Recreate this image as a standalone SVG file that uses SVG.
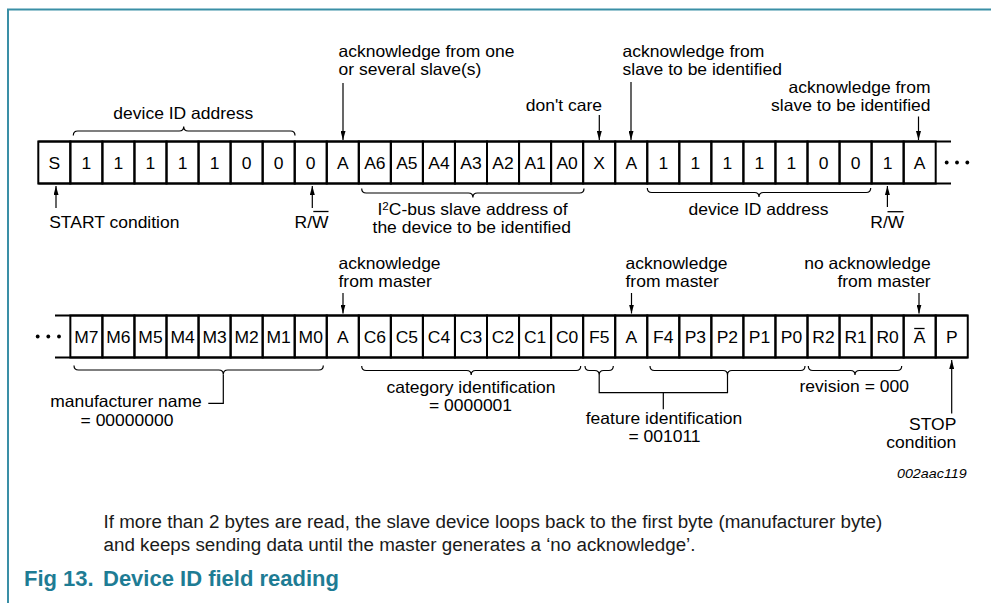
<svg xmlns="http://www.w3.org/2000/svg" width="991" height="603" viewBox="0 0 991 603">
<defs>
<style>
text{font-family:"Liberation Sans",Arial,Helvetica,sans-serif;fill:#000}
.t{font-size:16.5px}
.c{font-size:16.5px;text-anchor:middle}
.m{text-anchor:middle}
.e{text-anchor:end}
.cell rect{fill:none;stroke:#000;stroke-width:2}
.rl{stroke:#000;stroke-width:2;fill:none}
.br{fill:none;stroke:#000;stroke-width:1.2}
.ar{stroke:#000;stroke-width:1.2;marker-end:url(#ah)}
.ol{stroke:#000;stroke-width:1.3}
.dot{fill:#000}
.cap{font-size:18.8px;fill:#1a1a1a}
.ttl{font-size:22px;font-weight:bold;fill:#1e7c94}
</style>
<marker id="ah" markerUnits="userSpaceOnUse" markerWidth="9" markerHeight="5" refX="9" refY="2.5" orient="auto" viewBox="0 0 9 5"><path d="M0,0 L9,2.5 L0,5 z" fill="#000"/></marker>
</defs>
<rect width="991" height="603" fill="#fff"/>
<path d="M8,603 V9.5 H991" fill="none" stroke="#3a8fa6" stroke-width="2"/>

<!-- top row lines -->
<g id="row1-lines">
<path class="rl" d="M38.3,141.5 H951 M38.3,183.5 H951"/>
<circle class="dot" cx="946.7" cy="162.5" r="1.9"/><circle class="dot" cx="957" cy="162.5" r="1.9"/><circle class="dot" cx="967.3" cy="162.5" r="1.9"/>
</g>
<g id="t0" class="cell"><rect x="38.3" y="141.5" width="32.05" height="42"/><text class="c" transform="translate(54.33 168.5) scale(1.06 1)">S</text></g>
<g id="t1" class="cell"><rect x="70.35" y="141.5" width="32.05" height="42"/><text class="c" transform="translate(86.38 168.5) scale(1.06 1)">1</text></g>
<g id="t2" class="cell"><rect x="102.4" y="141.5" width="32.05" height="42"/><text class="c" transform="translate(118.43 168.5) scale(1.06 1)">1</text></g>
<g id="t3" class="cell"><rect x="134.45" y="141.5" width="32.05" height="42"/><text class="c" transform="translate(150.48 168.5) scale(1.06 1)">1</text></g>
<g id="t4" class="cell"><rect x="166.5" y="141.5" width="32.05" height="42"/><text class="c" transform="translate(182.53 168.5) scale(1.06 1)">1</text></g>
<g id="t5" class="cell"><rect x="198.55" y="141.5" width="32.05" height="42"/><text class="c" transform="translate(214.58 168.5) scale(1.06 1)">1</text></g>
<g id="t6" class="cell"><rect x="230.6" y="141.5" width="32.05" height="42"/><text class="c" transform="translate(246.63 168.5) scale(1.06 1)">0</text></g>
<g id="t7" class="cell"><rect x="262.65" y="141.5" width="32.05" height="42"/><text class="c" transform="translate(278.68 168.5) scale(1.06 1)">0</text></g>
<g id="t8" class="cell"><rect x="294.7" y="141.5" width="32.05" height="42"/><text class="c" transform="translate(310.73 168.5) scale(1.06 1)">0</text></g>
<g id="t9" class="cell"><rect x="326.75" y="141.5" width="32.05" height="42"/><text class="c" transform="translate(342.78 168.5) scale(1.06 1)">A</text></g>
<g id="t10" class="cell"><rect x="358.8" y="141.5" width="32.05" height="42"/><text class="c" transform="translate(374.83 168.5) scale(1.06 1)">A6</text></g>
<g id="t11" class="cell"><rect x="390.85" y="141.5" width="32.05" height="42"/><text class="c" transform="translate(406.88 168.5) scale(1.06 1)">A5</text></g>
<g id="t12" class="cell"><rect x="422.9" y="141.5" width="32.05" height="42"/><text class="c" transform="translate(438.93 168.5) scale(1.06 1)">A4</text></g>
<g id="t13" class="cell"><rect x="454.95" y="141.5" width="32.05" height="42"/><text class="c" transform="translate(470.98 168.5) scale(1.06 1)">A3</text></g>
<g id="t14" class="cell"><rect x="487" y="141.5" width="32.05" height="42"/><text class="c" transform="translate(503.03 168.5) scale(1.06 1)">A2</text></g>
<g id="t15" class="cell"><rect x="519.05" y="141.5" width="32.05" height="42"/><text class="c" transform="translate(535.08 168.5) scale(1.06 1)">A1</text></g>
<g id="t16" class="cell"><rect x="551.1" y="141.5" width="32.05" height="42"/><text class="c" transform="translate(567.13 168.5) scale(1.06 1)">A0</text></g>
<g id="t17" class="cell"><rect x="583.15" y="141.5" width="32.05" height="42"/><text class="c" transform="translate(599.18 168.5) scale(1.06 1)">X</text></g>
<g id="t18" class="cell"><rect x="615.2" y="141.5" width="32.05" height="42"/><text class="c" transform="translate(631.23 168.5) scale(1.06 1)">A</text></g>
<g id="t19" class="cell"><rect x="647.25" y="141.5" width="32.05" height="42"/><text class="c" transform="translate(663.28 168.5) scale(1.06 1)">1</text></g>
<g id="t20" class="cell"><rect x="679.3" y="141.5" width="32.05" height="42"/><text class="c" transform="translate(695.33 168.5) scale(1.06 1)">1</text></g>
<g id="t21" class="cell"><rect x="711.35" y="141.5" width="32.05" height="42"/><text class="c" transform="translate(727.38 168.5) scale(1.06 1)">1</text></g>
<g id="t22" class="cell"><rect x="743.4" y="141.5" width="32.05" height="42"/><text class="c" transform="translate(759.43 168.5) scale(1.06 1)">1</text></g>
<g id="t23" class="cell"><rect x="775.45" y="141.5" width="32.05" height="42"/><text class="c" transform="translate(791.48 168.5) scale(1.06 1)">1</text></g>
<g id="t24" class="cell"><rect x="807.5" y="141.5" width="32.05" height="42"/><text class="c" transform="translate(823.53 168.5) scale(1.06 1)">0</text></g>
<g id="t25" class="cell"><rect x="839.55" y="141.5" width="32.05" height="42"/><text class="c" transform="translate(855.58 168.5) scale(1.06 1)">0</text></g>
<g id="t26" class="cell"><rect x="871.6" y="141.5" width="32.05" height="42"/><text class="c" transform="translate(887.63 168.5) scale(1.06 1)">1</text></g>
<g id="t27" class="cell"><rect x="903.65" y="141.5" width="32.05" height="42"/><text class="c" transform="translate(919.68 168.5) scale(1.06 1)">A</text></g>

<!-- bottom row -->
<g id="row2-lines">
<path class="rl" d="M55,315.5 H967.75 M55,357.5 H967.75"/>
<circle class="dot" cx="37.7" cy="336.5" r="1.9"/><circle class="dot" cx="48.3" cy="336.5" r="1.9"/><circle class="dot" cx="59" cy="336.5" r="1.9"/>
</g>
<g id="b1" class="cell"><rect x="70.35" y="315.5" width="32.05" height="42"/><text class="c" transform="translate(86.38 342.5) scale(1.06 1)">M7</text></g>
<g id="b2" class="cell"><rect x="102.4" y="315.5" width="32.05" height="42"/><text class="c" transform="translate(118.43 342.5) scale(1.06 1)">M6</text></g>
<g id="b3" class="cell"><rect x="134.45" y="315.5" width="32.05" height="42"/><text class="c" transform="translate(150.48 342.5) scale(1.06 1)">M5</text></g>
<g id="b4" class="cell"><rect x="166.5" y="315.5" width="32.05" height="42"/><text class="c" transform="translate(182.53 342.5) scale(1.06 1)">M4</text></g>
<g id="b5" class="cell"><rect x="198.55" y="315.5" width="32.05" height="42"/><text class="c" transform="translate(214.58 342.5) scale(1.06 1)">M3</text></g>
<g id="b6" class="cell"><rect x="230.6" y="315.5" width="32.05" height="42"/><text class="c" transform="translate(246.63 342.5) scale(1.06 1)">M2</text></g>
<g id="b7" class="cell"><rect x="262.65" y="315.5" width="32.05" height="42"/><text class="c" transform="translate(278.68 342.5) scale(1.06 1)">M1</text></g>
<g id="b8" class="cell"><rect x="294.7" y="315.5" width="32.05" height="42"/><text class="c" transform="translate(310.73 342.5) scale(1.06 1)">M0</text></g>
<g id="b9" class="cell"><rect x="326.75" y="315.5" width="32.05" height="42"/><text class="c" transform="translate(342.78 342.5) scale(1.06 1)">A</text></g>
<g id="b10" class="cell"><rect x="358.8" y="315.5" width="32.05" height="42"/><text class="c" transform="translate(374.83 342.5) scale(1.06 1)">C6</text></g>
<g id="b11" class="cell"><rect x="390.85" y="315.5" width="32.05" height="42"/><text class="c" transform="translate(406.88 342.5) scale(1.06 1)">C5</text></g>
<g id="b12" class="cell"><rect x="422.9" y="315.5" width="32.05" height="42"/><text class="c" transform="translate(438.93 342.5) scale(1.06 1)">C4</text></g>
<g id="b13" class="cell"><rect x="454.95" y="315.5" width="32.05" height="42"/><text class="c" transform="translate(470.98 342.5) scale(1.06 1)">C3</text></g>
<g id="b14" class="cell"><rect x="487" y="315.5" width="32.05" height="42"/><text class="c" transform="translate(503.03 342.5) scale(1.06 1)">C2</text></g>
<g id="b15" class="cell"><rect x="519.05" y="315.5" width="32.05" height="42"/><text class="c" transform="translate(535.08 342.5) scale(1.06 1)">C1</text></g>
<g id="b16" class="cell"><rect x="551.1" y="315.5" width="32.05" height="42"/><text class="c" transform="translate(567.13 342.5) scale(1.06 1)">C0</text></g>
<g id="b17" class="cell"><rect x="583.15" y="315.5" width="32.05" height="42"/><text class="c" transform="translate(599.18 342.5) scale(1.06 1)">F5</text></g>
<g id="b18" class="cell"><rect x="615.2" y="315.5" width="32.05" height="42"/><text class="c" transform="translate(631.23 342.5) scale(1.06 1)">A</text></g>
<g id="b19" class="cell"><rect x="647.25" y="315.5" width="32.05" height="42"/><text class="c" transform="translate(663.28 342.5) scale(1.06 1)">F4</text></g>
<g id="b20" class="cell"><rect x="679.3" y="315.5" width="32.05" height="42"/><text class="c" transform="translate(695.33 342.5) scale(1.06 1)">P3</text></g>
<g id="b21" class="cell"><rect x="711.35" y="315.5" width="32.05" height="42"/><text class="c" transform="translate(727.38 342.5) scale(1.06 1)">P2</text></g>
<g id="b22" class="cell"><rect x="743.4" y="315.5" width="32.05" height="42"/><text class="c" transform="translate(759.43 342.5) scale(1.06 1)">P1</text></g>
<g id="b23" class="cell"><rect x="775.45" y="315.5" width="32.05" height="42"/><text class="c" transform="translate(791.48 342.5) scale(1.06 1)">P0</text></g>
<g id="b24" class="cell"><rect x="807.5" y="315.5" width="32.05" height="42"/><text class="c" transform="translate(823.53 342.5) scale(1.06 1)">R2</text></g>
<g id="b25" class="cell"><rect x="839.55" y="315.5" width="32.05" height="42"/><text class="c" transform="translate(855.58 342.5) scale(1.06 1)">R1</text></g>
<g id="b26" class="cell"><rect x="871.6" y="315.5" width="32.05" height="42"/><text class="c" transform="translate(887.63 342.5) scale(1.06 1)">R0</text></g>
<g id="b27" class="cell"><rect x="903.65" y="315.5" width="32.05" height="42"/><text class="c" transform="translate(919.68 342.5) scale(1.06 1)">A</text><line class="ol" x1="914.2" y1="328.5" x2="924.6" y2="328.5"/></g>
<g id="b28" class="cell"><rect x="935.7" y="315.5" width="32.05" height="42"/><text class="c" transform="translate(951.73 342.5) scale(1.06 1)">P</text></g>

<!-- connectors: arrows, braces -->
<g id="connectors">
<line class="ar" x1="56" y1="208" x2="56" y2="186"/>
<line class="ar" x1="312.3" y1="208" x2="312.3" y2="186"/>
<line class="ar" x1="343" y1="83" x2="343" y2="140"/>
<line class="ar" x1="599.3" y1="115" x2="599.3" y2="140"/>
<line class="ar" x1="631" y1="82" x2="631" y2="140"/>
<line class="ar" x1="918.5" y1="116.5" x2="918.5" y2="140"/>
<line class="ar" x1="887.4" y1="207" x2="887.4" y2="186"/>
<line class="ar" x1="343" y1="293" x2="343" y2="313.5"/>
<line class="ar" x1="631.5" y1="293" x2="631.5" y2="313.5"/>
<line class="ar" x1="919" y1="293" x2="919" y2="313.5"/>
<line class="ar" x1="951.7" y1="413.5" x2="951.7" y2="360"/>
<path class="br" d="M73.3,135.5 Q73.3,131 77.8,131 L179.2,131 Q183.7,131 183.7,126.5 Q183.7,131 188.2,131 L290.5,131 Q295,131 295,135.5"/>
<path class="br" d="M361.7,188.5 Q361.7,193 366.2,193 L468.4,193 Q472.9,193 472.9,197.5 Q472.9,193 477.4,193 L579.5,193 Q584,193 584,188.5"/>
<path class="br" d="M647.3,188 Q647.3,192.5 651.8,192.5 L754.5,192.5 Q759,192.5 759,197 Q759,192.5 763.5,192.5 L866.2,192.5 Q870.7,192.5 870.7,188"/>
<path class="br" d="M74,365.5 Q74,370 78.5,370 L218.8,370 Q223.3,370 223.3,374.5 Q223.3,370 227.8,370 L318.8,370 Q323.3,370 323.3,365.5"/>
<path class="br" d="M223.3,374.5 V403.3 H208.3"/>
<path class="br" d="M361.7,366 Q361.7,370.5 366.2,370.5 L466.7,370.5 Q471.2,370.5 471.2,375 Q471.2,370.5 475.7,370.5 L576.2,370.5 Q580.7,370.5 580.7,366"/>
<path class="br" d="M585,366 Q585,370.5 589.5,370.5 L594.7,370.5 Q599.2,370.5 599.2,375 Q599.2,370.5 603.7,370.5 L608.8,370.5 Q613.3,370.5 613.3,366"/>
<path class="br" d="M650,366 Q650,370.5 654.5,370.5 L723,370.5 Q727.5,370.5 727.5,375 Q727.5,370.5 732,370.5 L800.5,370.5 Q805,370.5 805,366"/>
<path class="br" d="M599.2,375 V392.7 H727.5 V375 M663.3,392.7 V409.3"/>
<path class="br" d="M808.3,366 Q808.3,370.5 812.8,370.5 L850.5,370.5 Q855,370.5 855,375 Q855,370.5 859.5,370.5 L897.2,370.5 Q901.7,370.5 901.7,366"/>
<line class="ol" x1="313.3" y1="211.5" x2="328.5" y2="211.5"/>
<line class="ol" x1="887.5" y1="211.7" x2="903.3" y2="211.7"/>
</g>

<!-- labels -->
<g id="labels">
<text class="t m" transform="translate(183.3 119) scale(1.06 1)">device ID address</text>
<text class="t" transform="translate(49.2 228) scale(1.06 1)">START condition</text>
<text class="t" transform="translate(294.5 228) scale(1.06 1)">R/W</text>
<text class="t" transform="translate(338.5 56.7) scale(1.06 1)">acknowledge from one</text>
<text class="t" transform="translate(338.5 75) scale(1.06 1)">or several slave(s)</text>
<text class="t" transform="translate(525.8 111) scale(1.06 1)">don't care</text>
<text class="t" transform="translate(622.5 56.7) scale(1.06 1)">acknowledge from</text>
<text class="t" transform="translate(622.5 75) scale(1.06 1)">slave to be identified</text>
<text class="t e" transform="translate(930.5 93.3) scale(1.06 1)">acknowledge from</text>
<text class="t e" transform="translate(930.5 110.7) scale(1.06 1)">slave to be identified</text>
<text class="t m" transform="translate(472.5 215) scale(1.06 1)">I<tspan font-size="11" dy="-5">2</tspan><tspan dy="5">C-bus slave address of</tspan></text>
<text class="t m" transform="translate(471.7 232.7) scale(1.06 1)">the device to be identified</text>
<text class="t m" transform="translate(758.5 215) scale(1.06 1)">device ID address</text>
<text class="t" transform="translate(870.3 228.3) scale(1.06 1)">R/W</text>
<text class="t" transform="translate(338.5 269.3) scale(1.06 1)">acknowledge</text>
<text class="t" transform="translate(338.5 286.7) scale(1.06 1)">from master</text>
<text class="t" transform="translate(625.5 269.3) scale(1.06 1)">acknowledge</text>
<text class="t" transform="translate(625.5 286.7) scale(1.06 1)">from master</text>
<text class="t e" transform="translate(930.7 269.3) scale(1.06 1)">no acknowledge</text>
<text class="t e" transform="translate(930.7 286.7) scale(1.06 1)">from master</text>
<text class="t m" transform="translate(126 407.3) scale(1.06 1)">manufacturer name</text>
<text class="t m" transform="translate(127 426) scale(1.06 1)">= 00000000</text>
<text class="t m" transform="translate(471 392.7) scale(1.06 1)">category identification</text>
<text class="t m" transform="translate(470.5 410.7) scale(1.06 1)">= 0000001</text>
<text class="t m" transform="translate(664 424) scale(1.06 1)">feature identification</text>
<text class="t m" transform="translate(664.5 441.7) scale(1.06 1)">= 001011</text>
<text class="t m" transform="translate(854.2 391.7) scale(1.06 1)">revision = 000</text>
<text class="t e" transform="translate(956.3 430) scale(1.06 1)">STOP</text>
<text class="t e" transform="translate(956.3 448.3) scale(1.06 1)">condition</text>
<text class="e" font-size="13.5" font-style="italic" transform="translate(966.7 478.3) scale(1.06 1)">002aac119</text>
</g>

<g id="caption">
<text class="cap" x="103.5" y="528.3">If more than 2 bytes are read, the slave device loops back to the first byte (manufacturer byte)</text>
<text class="cap" x="103.5" y="550.5">and keeps sending data until the master generates a ‘no acknowledge’.</text>
<text class="ttl" y="586"><tspan x="24">Fig 13.</tspan><tspan x="103">Device ID field reading</tspan></text>
</g>
</svg>
